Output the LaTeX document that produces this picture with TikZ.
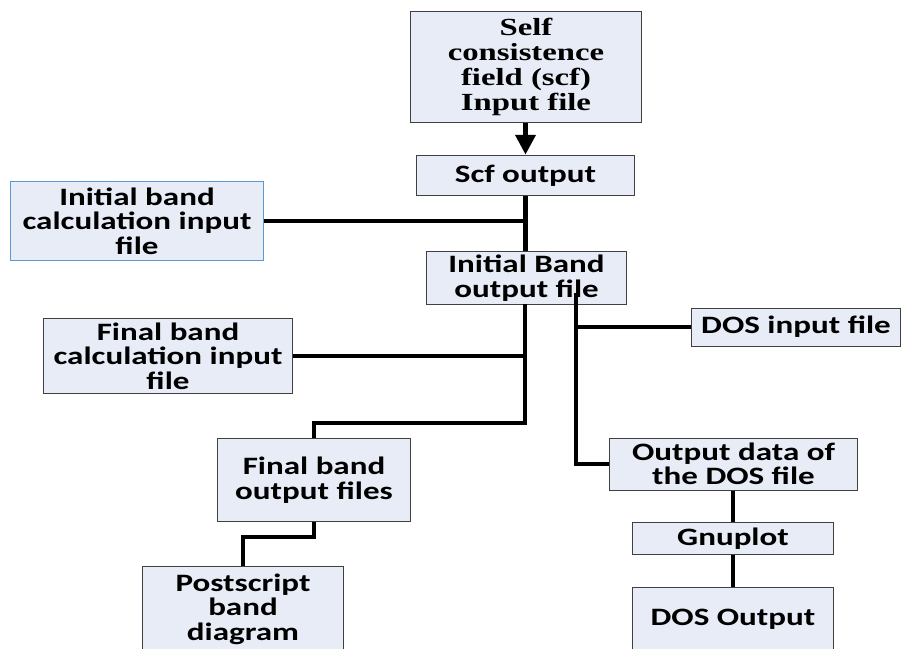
\documentclass[tikz,border=0pt]{standalone}
\usepackage{fontspec}
\usepackage{xcolor}
\usetikzlibrary{arrows.meta, positioning}
\newfontfamily\calib[FakeStretch=1.32]{Carlito}
\newfontfamily\timesb[FakeStretch=1.33]{Liberation Serif}
\definecolor{BoxFill}{RGB}{231,236,246}
\definecolor{BoxLine}{RGB}{64,64,64}
\definecolor{SkyLine}{RGB}{91,155,213}

\begin{document}
\begin{tikzpicture}[
          x=0.025cm, y=-0.025cm,
          box/.style={rectangle, draw=BoxLine, fill=BoxFill, line width=0.7pt, align=center, inner sep=1pt, font=\calib\bfseries\fontsize{17.8}{17.4}\selectfont},
          flow/.style={black, line width=3.2pt},
          elbow/.style={flow, line join=miter}
        ]
          \useasboundingbox (0,0) rectangle (901,649);
          \clip (0,0) rectangle (901,649);

          % main chain
          \node (scfin) [box, minimum width=5.78cm, minimum height=2.75cm, font=\timesb\bfseries\fontsize{17.5}{17.8}\selectfont] at (526,67) {Self\\consistence\\field (scf)\\Input file};
          \node (scfout) [box, minimum width=5.43cm, minimum height=1.02cm] at (525.5,175.5) {Scf output};
          \node (ibin) [box, draw=SkyLine, minimum width=6.3cm, minimum height=1.95cm] at (137,221) {Initial band\\calculation input\\file};
          \node (ibout) [box, minimum width=4.98cm, minimum height=1.3cm] at (526.5,278) {Initial Band\\output file};

          % band branch
          \node (fbin) [box, minimum width=6.22cm, minimum height=1.85cm] at (168,356) {Final band\\calculation input\\file};
          \node (fbout) [box, minimum width=4.8cm, minimum height=2.05cm] at (314,480) {Final band\\output files};
          \node (ps) [box, minimum width=5cm, minimum height=2.1cm] at (243,609) {Postscript\\band\\diagram};

          % DOS branch
          \node (dosin) [box, minimum width=5.2cm, minimum height=0.95cm] at (796,327) {DOS input file};
          \node (dosdata) [box, minimum width=6.22cm, minimum height=1.3cm] at (733.5,464) {Output data of\\the DOS file};
          \node (gnu) [box, minimum width=5cm, minimum height=0.8cm] at (733,538.5) {Gnuplot};
          \node (dosout) [box, minimum width=5cm, minimum height=1.6cm] at (733,619) {DOS Output};

          % connectors
          \draw[flow, -{Triangle[length=14pt, width=14pt]}] (scfout.north |- scfin.south) -- (scfout.north);
          \draw[flow] (scfout.south) -- (scfout.south |- ibout.north);
          \draw[flow] (ibin.east) -- (ibin.east -| scfout.south);

          \coordinate (bandtap) at (525,304);
          \coordinate (bandbend) at (525,423);
          \draw[elbow] (bandtap) -- (bandbend) -| (fbout.north);
          \draw[flow] (fbin.east) -- (fbin.east -| bandtap);

          \coordinate (dostap) at (576,293);
          \draw[elbow] (dostap) |- (dosdata.west);
          \draw[flow] (dosin.west) -- (dosin.west -| dostap);

          \draw[flow] (gnu.north |- dosdata.south) -- (gnu.north);
          \draw[flow] (gnu.south) -- (dosout.north);

          \coordinate (psbend) at (314,537);
          \draw[elbow] (fbout.south) -- (psbend) -| (ps.north);
        \end{tikzpicture}
\end{document}
